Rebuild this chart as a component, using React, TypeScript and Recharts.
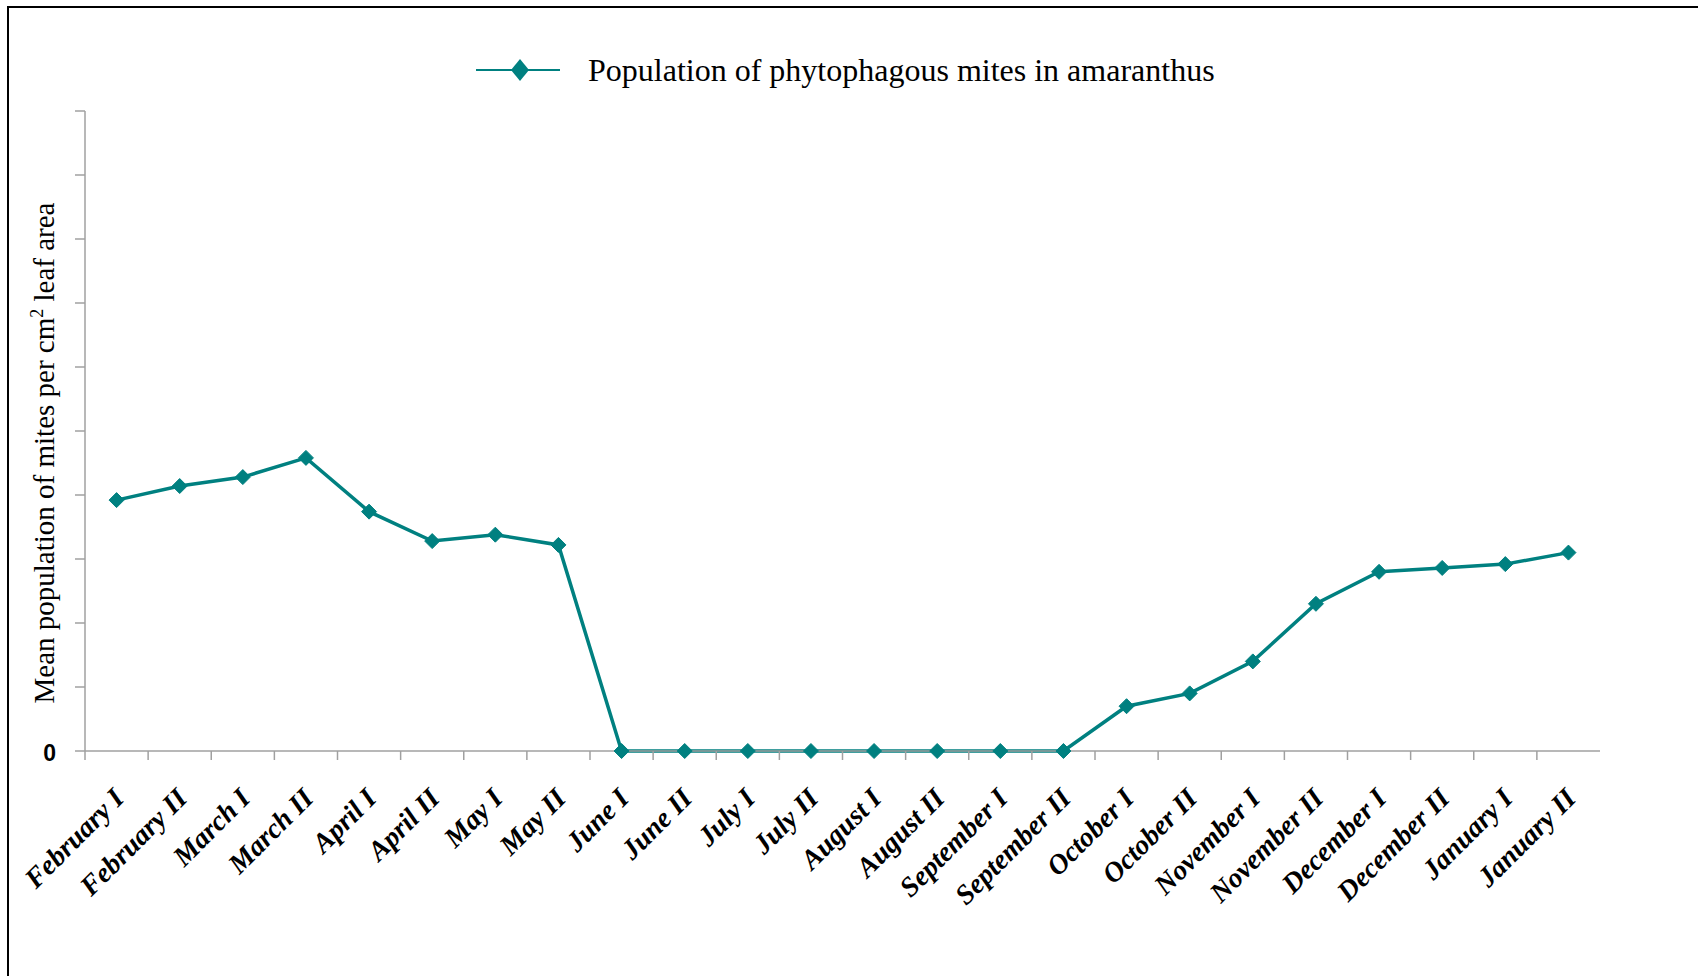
import React from 'react';
import { LineChart, Line, XAxis, YAxis, Legend } from 'recharts';

const categories = [
  'February I', 'February II', 'March I', 'March II', 'April I', 'April II',
  'May I', 'May II', 'June I', 'June II', 'July I', 'July II',
  'August I', 'August II', 'September I', 'September II', 'October I', 'October II',
  'November I', 'November II', 'December I', 'December II', 'January I', 'January II',
];

const mitePopulation = [
  1.96, 2.07, 2.14, 2.29, 1.87, 1.64, 1.69, 1.61,
  0, 0, 0, 0, 0, 0, 0, 0,
  0.35, 0.45, 0.7, 1.15, 1.4, 1.43, 1.46, 1.55,
];

const yTicks = [0, 0.5, 1, 1.5, 2, 2.5, 3, 3.5, 4, 4.5, 5];
const yDomain = [0, 5];

const legendLabel = 'Population of phytophagous mites in amaranthus';
const yLabelMain = 'Mean population of mites per cm';
const yLabelSup = '2';
const yLabelRest = ' leaf area';

const data = categories.map((c, i) => ({ period: c, mites: mitePopulation[i] }));

const W = 1670;
const H = 960;
const MARGIN = { top: 103, right: 79, bottom: 67, left: 16 };
const Y_AXIS_W = 60;
const X_AXIS_H = 150;
const PLOT_W = W - MARGIN.left - Y_AXIS_W - MARGIN.right;
const BAND = PLOT_W / categories.length;
const TEAL = '#008080';
const AXIS_GRAY = '#a0a0a0';
const SERIF = "'Liberation Serif', 'Times New Roman', serif";

const XTick = (props: any) => {
  const { x, y, payload } = props;
  const bx = x - BAND / 2;
  const ax = x + 9;
  const ay = y + 49;
  return (
    <g>
      <line x1={bx} y1={y} x2={bx} y2={y + 9} stroke={AXIS_GRAY} strokeWidth={1.5} />
      <text
        x={ax}
        y={ay}
        transform={`rotate(-45 ${ax} ${ay})`}
        textAnchor="end"
        fontFamily={SERIF}
        fontWeight="bold"
        fontStyle="italic"
        fontSize={28}
        fill="#000"
      >
        {payload.value}
      </text>
    </g>
  );
};

const YTick = (props: any) => {
  const { x, y, payload } = props;
  if (payload.value !== 0) return <g />;
  return (
    <text x={x} y={y} dy={10} textAnchor="end" fontFamily="'Liberation Sans', Arial, sans-serif" fontWeight="bold" fontSize={23} fill="#000">
      0
    </text>
  );
};

const YLabel = () => {
  const lx = 45;
  const ly = 445;
  return (
    <text
      x={lx}
      y={ly}
      transform={`rotate(-90 ${lx} ${ly})`}
      textAnchor="middle"
      fontFamily={SERIF}
      fontSize={29}
      fill="#000"
    >
      {yLabelMain}
      <tspan dy={-11} fontSize={18}>{yLabelSup}</tspan>
      <tspan dy={11}>{yLabelRest}</tspan>
    </text>
  );
};

const Diamond = (props: any) => {
  const { cx, cy, index } = props;
  if (cx == null || cy == null) return <g key={`d-${index}`} />;
  const s = 7.5;
  return (
    <path
      key={`d-${index}`}
      d={`M${cx},${cy - s}L${cx + s},${cy}L${cx},${cy + s}L${cx - s},${cy}Z`}
      fill={TEAL}
      stroke={TEAL}
      strokeWidth={1}
    />
  );
};

const LegendContent = () => (
  <div style={{ display: 'flex', alignItems: 'center', height: 44 }}>
    <svg width={84} height={44} style={{ display: 'block' }}>
      <line x1={0} y1={22} x2={84} y2={22} stroke={TEAL} strokeWidth={2} />
      <path d="M44,11L53,22L44,33L35,22Z" fill={TEAL} />
    </svg>
    <span
      style={{
        marginLeft: 28,
        fontFamily: SERIF,
        fontSize: 32,
        color: '#000',
        whiteSpace: 'nowrap',
        lineHeight: '44px',
      }}
    >
      {legendLabel}
    </span>
  </div>
);

export default function App() {
  return (
    <div style={{ position: 'relative', width: 1698, height: 976, overflow: 'hidden', background: '#fff' }}>
      <style>{'html,body{margin:0;padding:0;overflow:hidden;background:#fff}'}</style>
      <div
        style={{
          position: 'absolute',
          left: 7,
          top: 6,
          width: 1700,
          height: 980,
          borderLeft: '2px solid #000',
          borderTop: '2px solid #000',
        }}
      />
      <div style={{ position: 'absolute', left: 9, top: 8 }}>
        <LineChart width={W} height={H} data={data} margin={MARGIN}>
          <XAxis
            dataKey="period"
            scale="band"
            interval={0}
            height={X_AXIS_H}
            tickSize={0}
            tickMargin={0}
            tickLine={false}
            axisLine={{ stroke: AXIS_GRAY, strokeWidth: 1.5 }}
            tick={<XTick />}
          />
          <YAxis
            width={Y_AXIS_W}
            domain={yDomain}
            ticks={yTicks}
            interval={0}
            tickSize={10}
            tickMargin={19}
            axisLine={{ stroke: AXIS_GRAY, strokeWidth: 1.5 }}
            tickLine={{ stroke: AXIS_GRAY, strokeWidth: 1.5 }}
            tick={<YTick />}
            label={<YLabel />}
          />
          <Legend
            layout="horizontal"
            verticalAlign="middle"
            align="center"
            wrapperStyle={{ top: 40, left: 467, width: 900, height: 44 }}
            content={() => <LegendContent />}
          />
          <Line
            type="linear"
            dataKey="mites"
            name={legendLabel}
            stroke={TEAL}
            strokeWidth={3.5}
            dot={Diamond}
            activeDot={false}
            isAnimationActive={false}
          />
        </LineChart>
      </div>
    </div>
  );
}
